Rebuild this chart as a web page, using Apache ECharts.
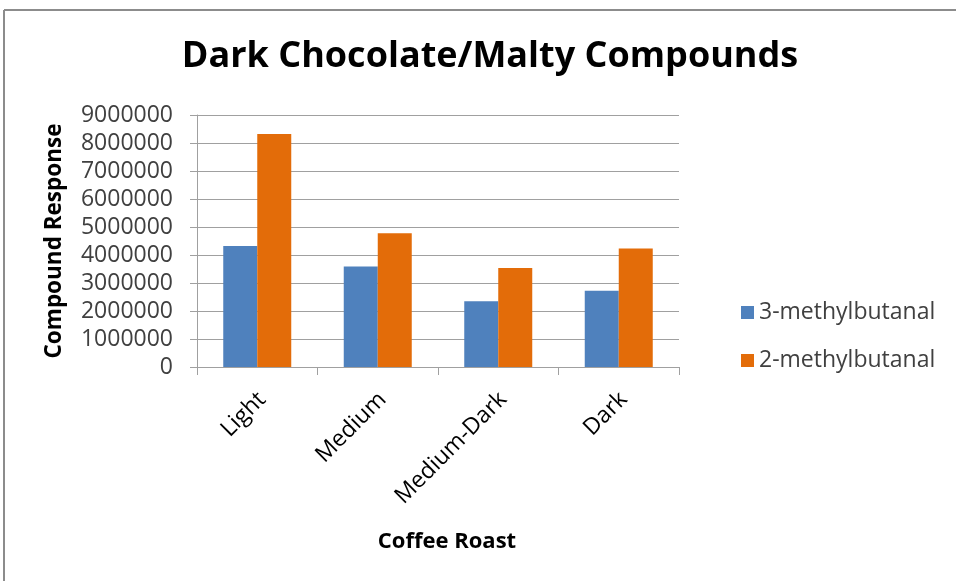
<!DOCTYPE html>
<html>
<head>
<meta charset="utf-8">
<script src="https://cdn.jsdelivr.net/npm/echarts@6/dist/echarts.min.js"></script>
<style>html,body{margin:0;padding:0;background:#fff}#c{width:956px;height:581px}</style>
</head>
<body>
<div id="c"></div>
<script>
var categories = ['Light', 'Medium', 'Medium-Dark', 'Dark'];
var series3mb = [4320000, 3590000, 2350000, 2720000];
var series2mb = [8320000, 4780000, 3540000, 4230000];
var seriesNames = ['3-methylbutanal', '2-methylbutanal'];
var yTicks = { min: 0, max: 9000000, interval: 1000000 };

var FONT = 'Open Sans';
var chart = echarts.init(document.getElementById('c'), null, { renderer: 'canvas' });
chart.setOption({
  animation: false,
  backgroundColor: '#ffffff',
  title: {
    text: 'Dark Chocolate/Malty Compounds',
    left: 485, top: 34, textAlign: 'center',
    textStyle: { fontFamily: FONT, fontWeight: 'bold', fontSize: 36, color: '#000' }
  },
  graphic: [
    { type: 'line', shape: { x1: 4, y1: 10, x2: 956, y2: 10 }, style: { stroke: '#8c8c8c', lineWidth: 2 } },
    { type: 'line', shape: { x1: 4, y1: 10, x2: 4, y2: 581 }, style: { stroke: '#8c8c8c', lineWidth: 2 } }
  ],
  legend: {
    orient: 'vertical', left: 736, top: 296,
    itemWidth: 13, itemHeight: 13, itemGap: 25,
    icon: 'rect',
    textStyle: { fontFamily: FONT, fontSize: 23, color: '#404040' },
    data: seriesNames
  },
  grid: { left: 197, right: 277, top: 115, bottom: 214, containLabel: false },
  xAxis: {
    type: 'category', data: categories,
    name: 'Coffee Roast', nameLocation: 'middle', nameGap: 164,
    nameTextStyle: { fontFamily: FONT, fontWeight: 'bold', fontSize: 22, color: '#000', verticalAlign: 'top', padding: [0, 0, 0, 18] },
    axisLine: { lineStyle: { color: '#a0a0a0', width: 1 } },
    axisTick: { show: true, length: 8, alignWithLabel: false, lineStyle: { color: '#a0a0a0' } },
    axisLabel: { rotate: 45, margin: 24, verticalAlign: 'top', lineHeight: 14, interval: 0, fontFamily: FONT, fontSize: 23, color: '#000' }
  },
  yAxis: {
    type: 'value', min: yTicks.min, max: yTicks.max, interval: yTicks.interval,
    name: 'Compound Response', nameLocation: 'middle', nameRotate: 90, nameGap: 131,
    nameTextStyle: { fontFamily: FONT, fontWeight: 'bold', fontSize: 22.5, color: '#000' },
    axisLine: { show: true, lineStyle: { color: '#a0a0a0', width: 1 } },
    axisTick: { show: true, length: 7, lineStyle: { color: '#a0a0a0' } },
    axisLabel: { margin: 24, fontFamily: FONT, fontSize: 23, color: '#404040', formatter: function (v) { return String(v); } },
    splitLine: { lineStyle: { color: '#a0a0a0', width: 1 } }
  },
  series: [
    { name: seriesNames[0], type: 'bar', data: series3mb, barWidth: 34, barGap: '0%', itemStyle: { color: '#4f81bd' } },
    { name: seriesNames[1], type: 'bar', data: series2mb, barWidth: 34, barGap: '0%', itemStyle: { color: '#e36c09' } }
  ]
});
</script>
</body>
</html>
